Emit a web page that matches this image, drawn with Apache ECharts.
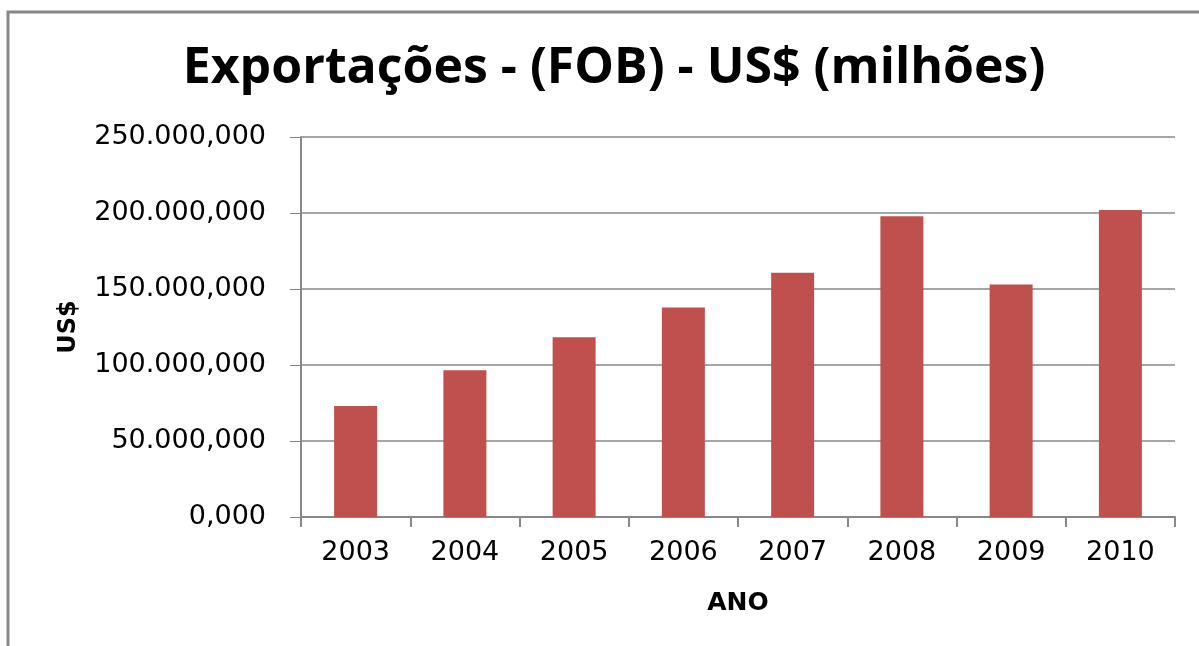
<!DOCTYPE html>
<html>
<head>
<meta charset="utf-8">
<script src="https://cdn.jsdelivr.net/npm/echarts@6/dist/echarts.min.js"></script>
<style>
html,body{margin:0;padding:0;background:#fff;}
#chart{width:1199px;height:646px;}
</style>
</head>
<body>
<div id="chart"></div>
<script>
const categories = ['2003','2004','2005','2006','2007','2008','2009','2010'];
const exportValues = [73084, 96475, 118308, 137807, 160649, 197942, 152995, 201915];
const yTicks = [0, 50000, 100000, 150000, 200000, 250000];

function fmt(v){
  const s = String(Math.round(v));
  const withDots = s.replace(/\B(?=(\d{3})+(?!\d))/g, '.');
  return withDots + ',000';
}

const chart = echarts.init(document.getElementById('chart'));
chart.setOption({
  animation: false,
  backgroundColor: '#fff',
  graphic: [{
    type: 'rect',
    shape: { x: 8, y: 12, width: 1400, height: 1000 },
    style: { fill: 'none', stroke: '#888', lineWidth: 3 },
    silent: true
  }],
  title: {
    text: 'Exportações - (FOB) - US$ (milhões)',
    left: 609,
    textAlign: 'center',
    top: 39,
    textStyle: { fontFamily: 'Open Sans', fontWeight: 'bold', fontSize: 50, color: '#000' }
  },
  grid: { left: 301, right: 24, top: 137, bottom: 129 },
  xAxis: {
    type: 'category',
    data: categories,
    name: 'ANO',
    nameLocation: 'middle',
    nameGap: 74,
    nameTextStyle: { fontFamily: 'DejaVu Sans', fontWeight: 'bold', fontSize: 25, color: '#000' },
    axisLine: { lineStyle: { color: '#888', width: 2 } },
    axisTick: { show: true, length: 10, lineStyle: { color: '#888', width: 2 } },
    axisLabel: { fontFamily: 'DejaVu Sans', fontSize: 27, color: '#000', margin: 22 }
  },
  yAxis: {
    type: 'value',
    min: yTicks[0],
    max: yTicks[yTicks.length - 1],
    interval: yTicks[1] - yTicks[0],
    name: 'US$',
    nameLocation: 'middle',
    nameRotate: 90,
    nameGap: 220,
    nameTextStyle: { fontFamily: 'DejaVu Sans', fontWeight: 'bold', fontSize: 24, color: '#000' },
    axisLine: { show: true, lineStyle: { color: '#888', width: 2 } },
    axisTick: { show: true, length: 11, lineStyle: { color: '#888', width: 1 } },
    axisLabel: { fontFamily: 'DejaVu Sans', fontSize: 27, color: '#000', margin: 35, formatter: fmt },
    splitLine: { show: true, lineStyle: { color: '#888', width: 1.5 } }
  },
  series: [{
    type: 'bar',
    data: exportValues,
    barWidth: 43,
    itemStyle: { color: '#C0504D' }
  }]
});
</script>
</body>
</html>
